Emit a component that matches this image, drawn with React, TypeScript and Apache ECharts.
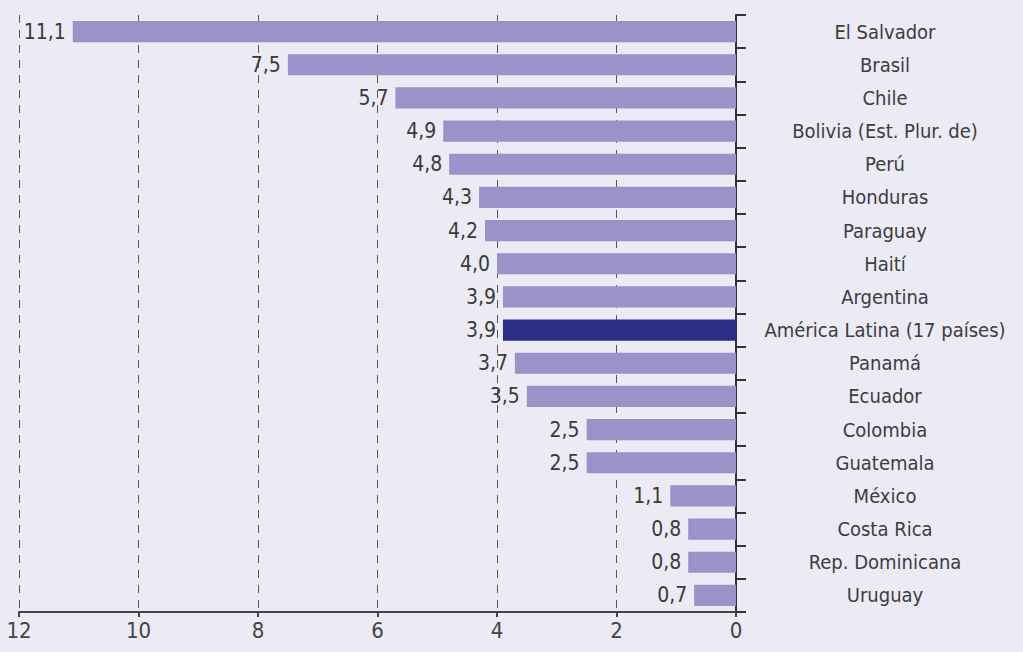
import React, { useEffect, useRef } from "react";
import * as echarts from "echarts";

const categories = [
  "El Salvador",
  "Brasil",
  "Chile",
  "Bolivia (Est. Plur. de)",
  "Perú",
  "Honduras",
  "Paraguay",
  "Haití",
  "Argentina",
  "América Latina (17 países)",
  "Panamá",
  "Ecuador",
  "Colombia",
  "Guatemala",
  "México",
  "Costa Rica",
  "Rep. Dominicana",
  "Uruguay",
];
const values = [11.1, 7.5, 5.7, 4.9, 4.8, 4.3, 4.2, 4.0, 3.9, 3.9, 3.7, 3.5, 2.5, 2.5, 1.1, 0.8, 0.8, 0.7];
const highlight = "América Latina (17 países)";

const FONT = "'Liberation Sans Narrow', 'DejaVu Sans Condensed', 'Roboto Condensed', sans-serif";

export default function App() {
  const ref = useRef<HTMLDivElement>(null);
  useEffect(() => {
    if (!ref.current) return;
    const chart = echarts.init(ref.current, null, { renderer: "svg" });
    chart.setOption({
      animation: false,
      backgroundColor: "#ebeaf5",
      grid: { left: 19, right: 287, top: 15, bottom: 40, containLabel: false },
      xAxis: {
        type: "value",
        inverse: true,
        min: 0,
        max: 12,
        interval: 2,
        axisLine: { show: true, lineStyle: { color: "#444", width: 2 } },
        axisTick: { show: true, inside: false, length: 5, lineStyle: { color: "#444", width: 2 } },
        axisLabel: {
          color: "#444",
          fontSize: 22,
          fontFamily: FONT,
          margin: 7,
        },
        splitLine: {
          show: true,
          lineStyle: { color: "#555", type: [8, 7], width: 1 },
        },
      },
      yAxis: {
        type: "category",
        data: categories,
        inverse: true,
        position: "right",
        axisLine: { show: true, lineStyle: { color: "#333", width: 2 } },
        axisTick: { show: true, length: 10, interval: 0, lineStyle: { color: "#333", width: 2 } },
        axisLabel: {
          color: "#3d3d3d",
          fontSize: 20,
          fontFamily: FONT,
          align: "center",
          margin: 149,
          interval: 0,
        },
      },
      series: [
        {
          type: "bar",
          data: values.map((v, i) => ({
            value: v,
            itemStyle: { color: categories[i] === highlight ? "#2d2d85" : "#9a92c8" },
          })),
          barCategoryGap: "36%",
          label: {
            show: true,
            position: "left",
            distance: 7,
            color: "#3a3a3a",
            fontSize: 21,
            fontFamily: FONT,
            formatter: (p: any) => p.value.toFixed(1).replace(".", ","),
          },
        },
      ],
    });
    return () => chart.dispose();
  }, []);
  return (
    <div
      ref={ref}
      style={{ position: "fixed", left: 0, top: 0, width: 1023, height: 652 }}
    />
  );
}
